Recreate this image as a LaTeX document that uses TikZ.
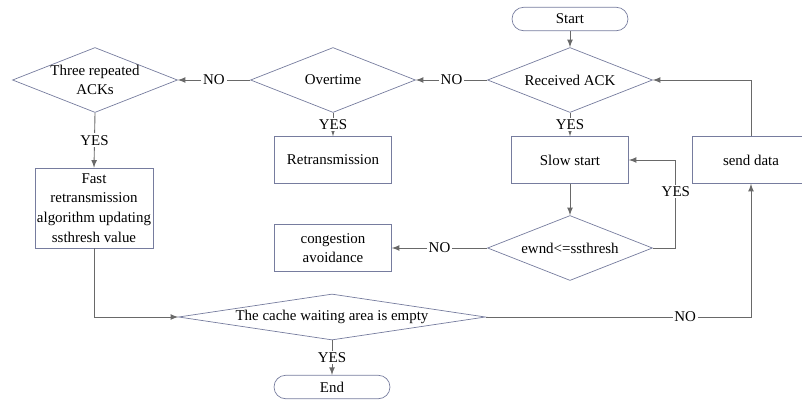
\documentclass[tikz,border=0pt]{standalone}
\usepackage{fontspec}
\setmainfont{Liberation Serif}
\newfontfamily\flowfont{Liberation Serif}
\usetikzlibrary{arrows,shapes.geometric}
\definecolor{shapeline}{RGB}{118,124,158}
\definecolor{flowline}{RGB}{105,105,105}
\tikzstyle{process}=[rectangle,draw=shapeline,fill=white,minimum width=2.34cm,minimum height=0.94cm,inner sep=1pt,align=center]
\tikzstyle{terminal}=[rectangle,rounded corners=0.235cm,draw=shapeline,minimum width=2.32cm,minimum height=0.47cm,inner sep=0pt]
\tikzstyle{decision}=[diamond,draw=shapeline,aspect=2.54,minimum width=3.3cm,minimum height=1.3cm,inner sep=0pt,align=center]
\tikzstyle{weight}=[fill=white,inner sep=1pt]
\tikzstyle{flow}=[->,>=latex,draw=flowline,line width=0.5pt]
\begin{document}
\begin{tikzpicture}[x=0.02cm,y=-0.02cm,font=\flowfont\fontsize{8.5}{11.2}\selectfont]
\useasboundingbox (0,0) rectangle (802,400);

%Nodes
    \node[terminal] (start) at (570,19) {Start};
    \foreach \pos/\name/\label in {{(570,80)/recv/Received ACK}, {(333,80)/ovt/Overtime}, {(570,248)/ewnd/ewnd<=ssthresh}}
        \node[decision] (\name) at \pos {\label};
    \node[decision,inner sep=-2.5mm] (three) at (95,80) {Three repeated\\ACKs};
    \node[decision,aspect=6.67,minimum width=6.14cm,minimum height=0.92cm] (cache) at (332,317) {The cache waiting area is empty};

    \foreach \pos/\name/\label in {{(333,160)/retx/Retransmission}, {(570,160)/slow/Slow start}, {(751,160)/send/send data}, {(333,248)/cong/{congestion\\avoidance}}}
        \node[process] (\name) at \pos {\label};
    \node[process,inner xsep=0pt,minimum width=2.36cm,minimum height=1.6cm] (fast) at (94,208) {Fast\\retransmission\\algorithm updating\\ssthresh value};
    \node[terminal] (end) at (332,387) {End};

%Edges
  \draw[flow] (start) -- (recv);
  \draw[flow] (slow) -- (ewnd);
  \foreach \source/ \dest /\weight in {recv/ovt/NO, ovt/three/NO, ewnd/cong/NO}
          \draw[flow] (\source.west) -- node[weight] {\weight} (\dest.east);
  \foreach \source/ \dest /\weight in {ovt/retx/YES, recv/slow/YES, three/fast/YES, cache/end/YES}
          \draw[flow] (\source.south) -- node[weight] {\weight} (\dest.north);
  \draw[flow] (ewnd.east) -- ++(23,0) |- node[weight,pos=0.32] {YES} (slow.east);
  \draw[flow] (fast.south) |- (cache.west);
  \draw[flow] (cache.east) -| node[weight,pos=0.376] {NO} (send.south);
  \draw[flow] (send.north) |- (recv.east);

\end{tikzpicture}
\end{document}
